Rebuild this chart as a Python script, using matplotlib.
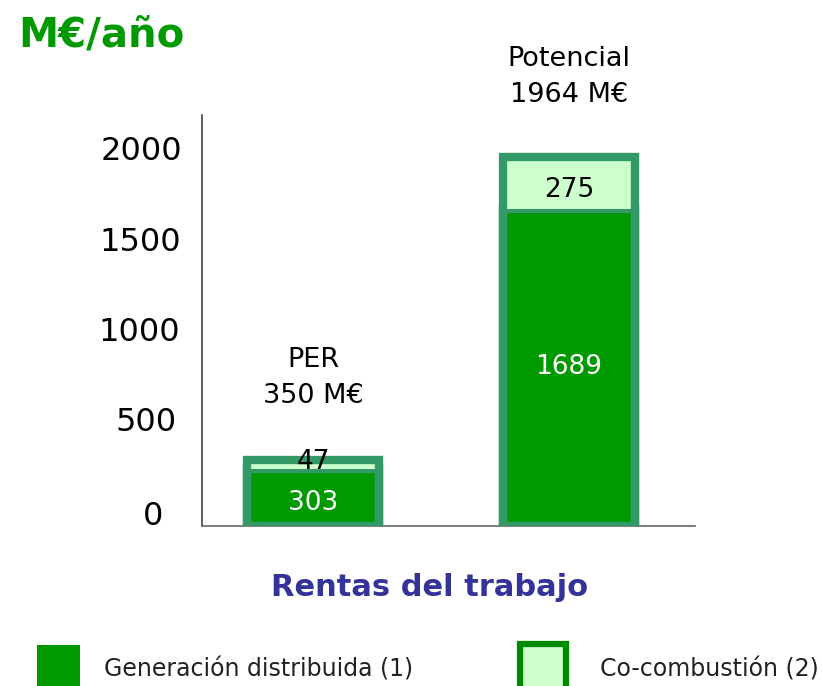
import matplotlib
matplotlib.use("Agg")
import matplotlib.pyplot as plt
from matplotlib.patches import Rectangle
from matplotlib.transforms import ScaledTranslation

# data
groups = ["PER", "Potencial"]
gen_dist = [303, 1689]      # Generación distribuida (1)
co_comb = [47, 275]         # Co-combustión (2)
totals = [350, 1964]
yticks = [0, 500, 1000, 1500, 2000]
legend_labels = ["Generación distribuida (1)", "Co-combustión (2)"]

green = "#009900"
light = "#ccffcc"
border = "#339966"
lw = 6.0

W, H = 822, 686
fig = plt.figure(figsize=(W/100, H/100), dpi=100)
ax = fig.add_axes([202/W, 1-526/H, 493/W, 411/H])

x = [0, 1]
w = 0.515
ax.bar(x, gen_dist, w, color=green, edgecolor=border, linewidth=lw, zorder=2)
ax.bar(x, co_comb, w, bottom=gen_dist, color=light, edgecolor="none", zorder=3)
ax.bar(x, totals, w, fill=False, edgecolor=border, linewidth=lw, zorder=4)

ax.set_xlim(-0.434, 1.492)
ax.set_ylim(0, 2190)
ax.set_xticks([])
ax.set_yticks(yticks)
ax.set_yticklabels([str(v) for v in yticks], fontsize=23)
ax.tick_params(axis="y", length=0, pad=17)
# labels in the original sit a little off the tick positions
shifts = [(-15, 13), (-2, 13), (2, 9), (3, 5), (4, 3)]
for lab, (dx, dy) in zip(ax.get_yticklabels(), shifts):
    lab.set_transform(lab.get_transform() + ScaledTranslation(dx/100, dy/100, fig.dpi_scale_trans))
for s in ["top", "right"]:
    ax.spines[s].set_visible(False)
ax.spines["left"].set_color("#444444")
ax.spines["bottom"].set_color("#666666")
ax.spines["left"].set_linewidth(1.2)
ax.spines["bottom"].set_linewidth(1.2)

# value labels
ax.text(x[0], 125, str(gen_dist[0]), color="white", fontsize=19,
        ha="center", va="center", zorder=5)
ax.text(x[0], 343, str(co_comb[0]), color="black", fontsize=19,
        ha="center", va="center", zorder=5)
ax.text(x[1], 847, str(gen_dist[1]), color="white", fontsize=19,
        ha="center", va="center", zorder=5)
ax.text(x[1], 1790, str(co_comb[1]), color="black", fontsize=19,
        ha="center", va="center", zorder=5)

# group annotations
ax.text(x[0], 790, "%s\n%d M€" % (groups[0], totals[0]), fontsize=19.5, ha="center",
        va="center", linespacing=1.5, clip_on=False)
ax.text(x[1], 2390, "%s\n%d M€" % (groups[1], totals[1]), fontsize=19.5, ha="center",
        va="center", linespacing=1.5, clip_on=False)

fig.text(18/W, 1-35/H, "M€/año", color=green, fontsize=29, fontweight="bold",
         ha="left", va="center")
fig.text(430/W, 1-587/H, "Rentas del trabajo", color="#333399", fontsize=22,
         fontweight="bold", ha="center", va="center")

# legend drawn by hand (wide spacing in the original)
fig.add_artist(Rectangle((37/W, 1-690/H), 43/W, 45/H, transform=fig.transFigure,
                         facecolor=green, edgecolor="none"))
fig.add_artist(Rectangle((520/W, 1-690/H), 46/W, 46/H, transform=fig.transFigure,
                         facecolor=light, edgecolor="#008a00", linewidth=4.5))
fig.text(104/W, 1-669/H, legend_labels[0], fontsize=17, color="#222222",
         ha="left", va="center")
fig.text(600/W, 1-669/H, legend_labels[1], fontsize=17, color="#222222",
         ha="left", va="center")

fig.savefig("out.png", dpi=100)
